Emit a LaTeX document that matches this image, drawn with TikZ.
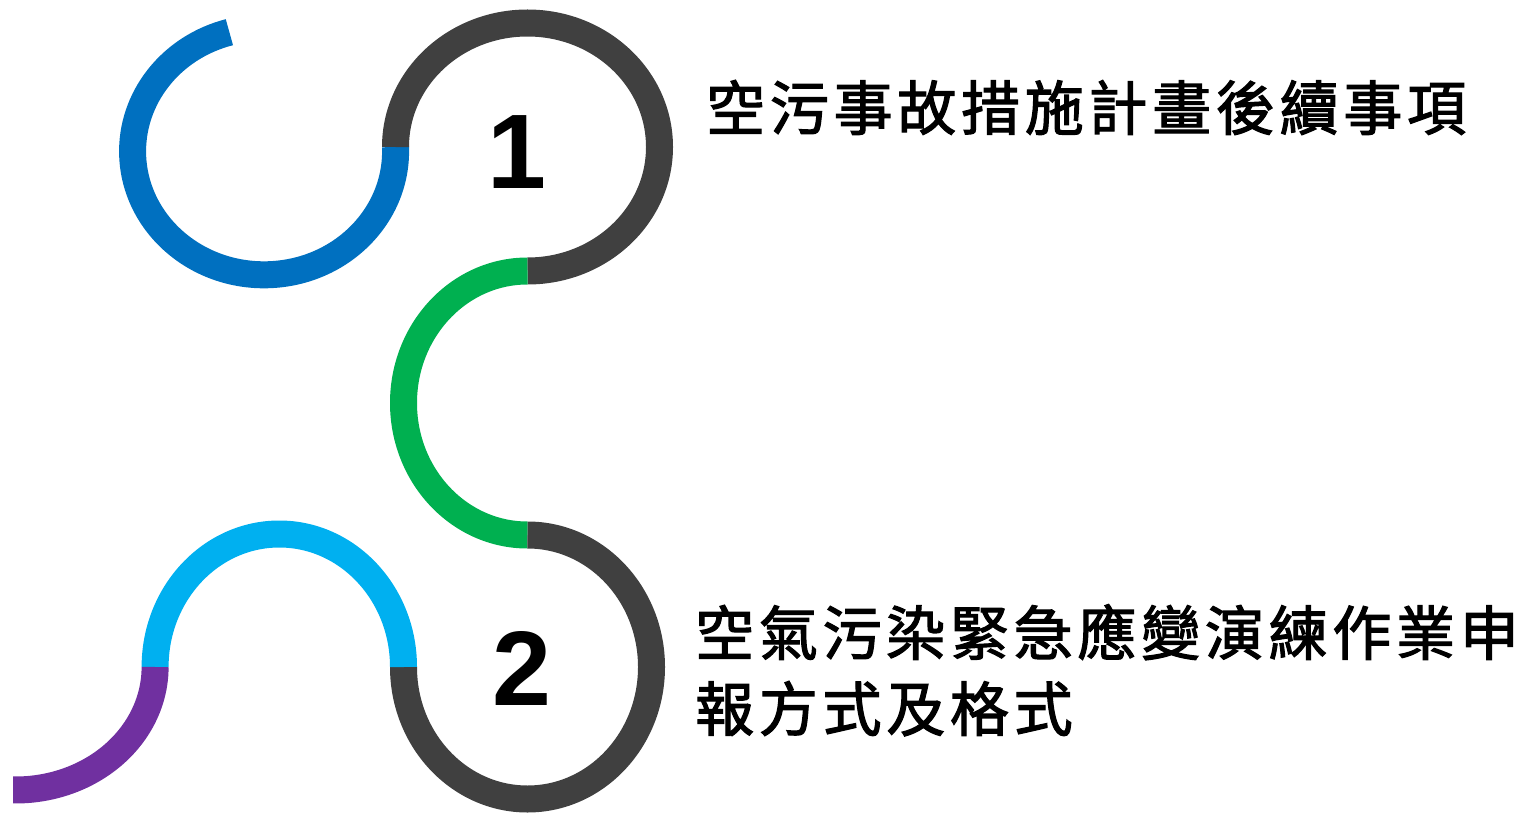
\documentclass[tikz,border=0pt]{standalone}
\usepackage{fontspec}
\newfontfamily\cjk{Noto Sans CJK TC}[LetterSpace=8,FakeBold=2]
\newfontfamily\numfont{Liberation Sans}
\definecolor{cblue}{HTML}{0070C0}
\definecolor{cgray}{HTML}{404040}
\definecolor{cgreen}{HTML}{00B050}
\definecolor{clblue}{HTML}{00B0F0}
\definecolor{cpurple}{HTML}{7030A0}
\begin{document}
\begin{tikzpicture}[x=1pt,y=-1pt,
  band/.style={line width=27pt,line cap=butt},
  num/.style={inner sep=0pt,anchor=base,font=\numfont\bfseries\fontsize{106}{106}\selectfont},
  label/.style={inner sep=0pt,anchor=base west,align=left,font=\cjk\fontsize{59}{76}\selectfont}]
\useasboundingbox (0,0) rectangle (1526,813);
\coordinate (j1) at (395.5,147);
\draw[band,cblue] (j1) arc[start angle=-2,end angle=254.7,x radius=131.5,y radius=123.5] coordinate (bend);
\draw[band,cgray] (j1) arc[start angle=180,end angle=450,x radius=132,y radius=124] coordinate (j2);
\draw[band,cgreen] (j2) arc[start angle=270,end angle=90,x radius=124,y radius=132] coordinate (j3);
\draw[band,cgray] (j3) arc[start angle=-90,end angle=180,x radius=124,y radius=132] coordinate (j4);
\draw[band,clblue] (j4) arc[start angle=0,end angle=-180,x radius=124.2,y radius=133] coordinate (j5);
\draw[band,cpurple] (j5) arc[start angle=0,end angle=91,x radius=139.5,y radius=123] coordinate (pend);
\node[num] (n1) at (517,188.3) {1};
\node[num] (n2) at (522,705) {2};
\node[label] (t1) at (706,130) {空污事故措施計畫後續事項};
\node[label] (t2) at (695,731) {空氣污染緊急應變演練作業申\\報方式及格式};
\end{tikzpicture}
\end{document}
